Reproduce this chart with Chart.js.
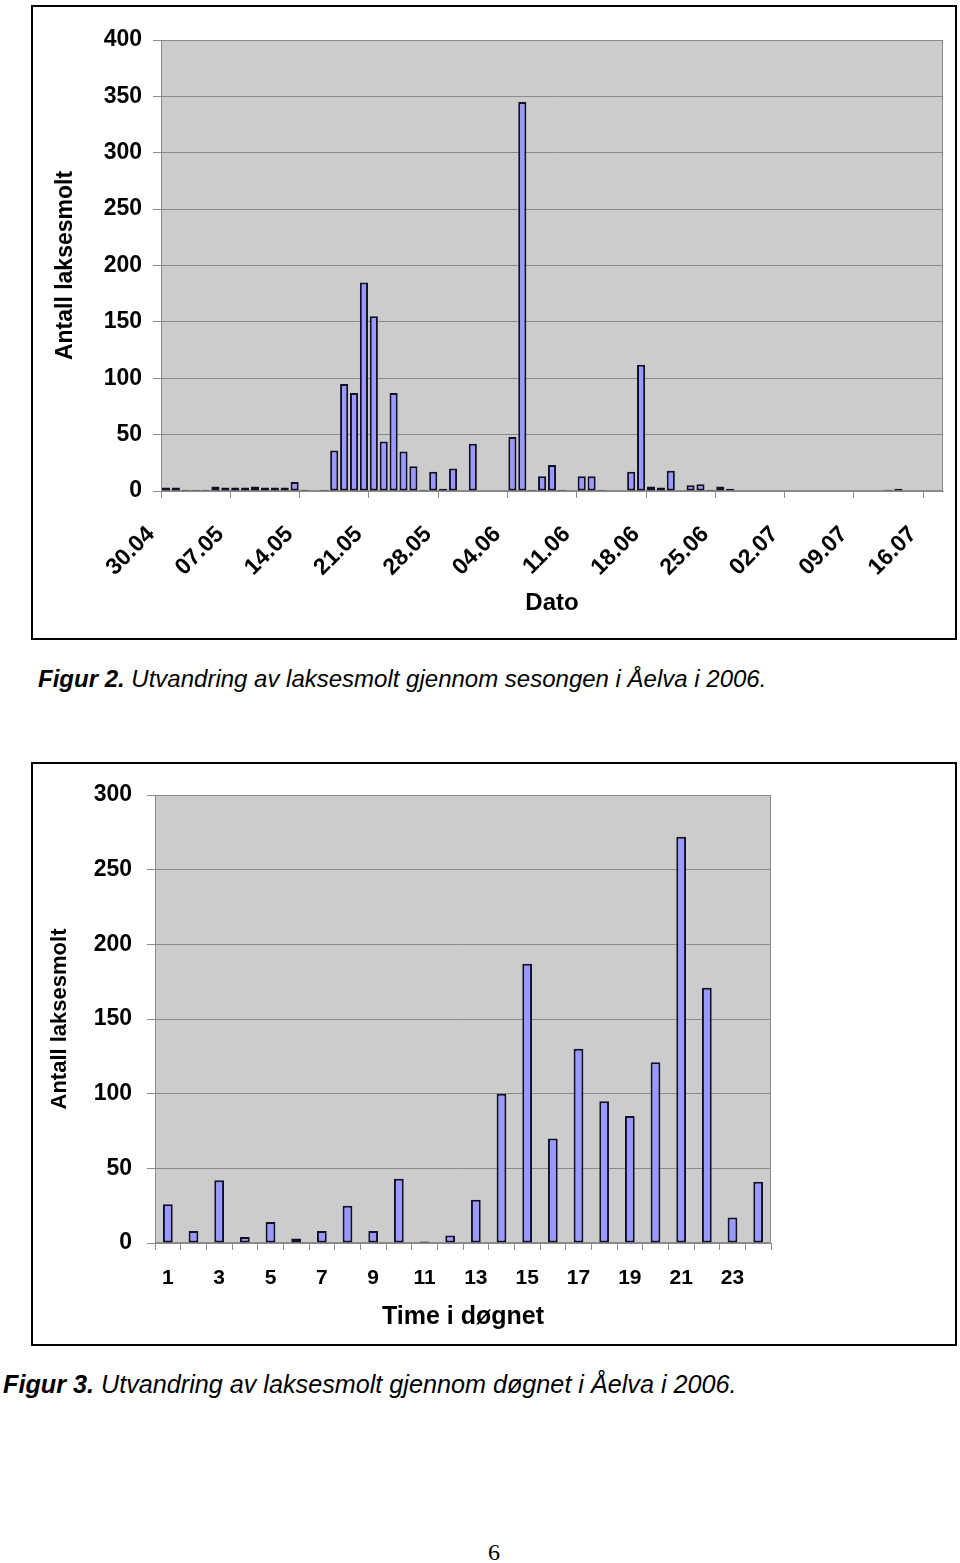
<!DOCTYPE html>
<html>
<head>
<meta charset="utf-8">
<script src="https://cdn.jsdelivr.net/npm/chart.js@4/dist/chart.umd.min.js"></script>
<style>
  html, body { margin: 0; padding: 0; background: #fff; }
  body { width: 960px; height: 1563px; position: relative; overflow: hidden; font-family: "Liberation Sans", Arial, sans-serif; }
  .box { position: absolute; border: 2px solid #000; }
  .box canvas { display: block; }
  .cap { position: absolute; font-size: 24px; line-height: 28px; font-style: italic; white-space: nowrap; color: #000; }
  .cap b { font-weight: bold; }
  .pg { position: absolute; font-family: "Liberation Serif", "Times New Roman", serif; font-size: 24px; line-height: 28px; }
</style>
</head>
<body>
<div class="box" id="box1" style="left:31px; top:5px; width:922px; height:631px;"><canvas id="c1" width="922" height="631"></canvas></div>
<div class="cap" style="left:38px; top:665px;"><b>Figur 2.</b> Utvandring av laksesmolt gjennom sesongen i Åelva i 2006.</div>
<div class="box" id="box2" style="left:31px; top:762px; width:922px; height:580px;"><canvas id="c2" width="922" height="580"></canvas></div>
<div class="cap" style="left:3px; top:1370px; font-size:25.2px;"><b>Figur 3.</b> Utvandring av laksesmolt gjennom døgnet i Åelva i 2006.</div>
<div class="pg" style="left:488px; top:1538px;">6</div>
<script>
// ---------- Figure 2 data (daily counts) ----------
const dates = [
  '30.04',
  '01.05','02.05','03.05','04.05','05.05','06.05','07.05','08.05','09.05','10.05',
  '11.05','12.05','13.05','14.05','15.05','16.05','17.05','18.05','19.05','20.05',
  '21.05','22.05','23.05','24.05','25.05','26.05','27.05','28.05','29.05','30.05','31.05',
  '01.06','02.06','03.06','04.06','05.06','06.06','07.06','08.06','09.06','10.06',
  '11.06','12.06','13.06','14.06','15.06','16.06','17.06','18.06','19.06','20.06',
  '21.06','22.06','23.06','24.06','25.06','26.06','27.06','28.06','29.06','30.06',
  '01.07','02.07','03.07','04.07','05.07','06.07','07.07','08.07','09.07','10.07',
  '11.07','12.07','13.07','14.07','15.07','16.07','17.07'
];
const dailyCounts = [
  3,
  3,1,1,1,4,3,3,3,4,3,
  3,3,8,1,null,1,36,95,87,185,
  155,44,87,35,22,1,17,2,20,null,42,
  null,null,null,48,345,1,13,23,1,null,
  13,13,1,null,null,17,112,4,3,18,
  null,5,6,1,4,2,null,null,null,null,
  null,null,null,null,null,null,null,null,null,null,
  null,1,2,null,null,null,null
];
const dateTickLabels = ['30.04','07.05','14.05','21.05','28.05','04.06','11.06','18.06','25.06','02.07','09.07','16.07'];
const yTicks1 = [0,50,100,150,200,250,300,350,400];

// ---------- Figure 3 data (hourly counts) ----------
const hours = ['1','2','3','4','5','6','7','8','9','10','11','12','13','14','15','16','17','18','19','20','21','22','23','24'];
const hourlyCounts = [26,8,42,4,14,3,8,25,8,43,1,5,29,100,187,70,130,95,85,121,272,171,17,41];
const hourTickLabels = ['1','3','5','7','9','11','13','15','17','19','21','23'];
const yTicks2 = [0,50,100,150,200,250,300];

const FONT = '"Liberation Sans", Arial, sans-serif';
const GRID = '#8a8a8a';
const PLOTBG = '#cccccc';
const BARFILL = '#9999ff';
const BARLINE = '#101028';

const plotBg = {
  id: 'plotBg',
  beforeDraw(chart) {
    const a = chart.chartArea, ctx = chart.ctx;
    ctx.save();
    ctx.fillStyle = PLOTBG;
    ctx.fillRect(a.left, a.top, a.right - a.left, a.bottom - a.top);
    ctx.strokeStyle = GRID;
    ctx.lineWidth = 1;
    ctx.strokeRect(a.left + 0.5, a.top + 0.5, a.right - a.left - 1, a.bottom - a.top - 1);
    ctx.restore();
  }
};

Chart.defaults.font.family = FONT;
Chart.defaults.color = '#000';

new Chart(document.getElementById('c1'), {
  type: 'bar',
  data: {
    labels: dates,
    datasets: [{
      data: dailyCounts,
      backgroundColor: BARFILL,
      borderColor: BARLINE,
      borderWidth: 2,
      borderSkipped: false,
      barPercentage: 0.82,
      categoryPercentage: 1.0
    }]
  },
  options: {
    responsive: false,
    animation: false,
    devicePixelRatio: 1,
    layout: { padding: { left: 0, right: 12, top: 33, bottom: 0 } },
    plugins: { legend: { display: false }, tooltip: { enabled: false } },
    scales: {
      x: {
        offset: true,
        grid: {
          offset: true,
          drawOnChartArea: false,
          drawTicks: true,
          tickLength: 7,
          color: (ctx) => (ctx.index % 7 === 0 ? GRID : 'rgba(0,0,0,0)')
        },
        border: { display: true, color: GRID },
        ticks: {
          autoSkip: false,
          minRotation: 45,
          maxRotation: 45,
          padding: 23,
          labelOffset: -15,
          color: '#000',
          font: { family: FONT, size: 23, weight: 'bold' },
          callback: (v, i) => (dateTickLabels.includes(dates[i]) ? dates[i] : '')
        },
        title: {
          display: true,
          text: 'Dato',
          color: '#000',
          font: { family: FONT, size: 24, weight: 'bold' },
          padding: { top: 0, bottom: 20.6 }
        },
        afterFit: (s) => { s.height = 147; s.paddingLeft = 0; s.paddingRight = 0; }
      },
      y: {
        min: 0,
        max: 400,
        afterBuildTicks: (s) => { s.ticks = yTicks1.map(v => ({ value: v })); },
        grid: { color: GRID, tickLength: 8, drawTicks: true },
        border: { display: true, color: GRID },
        ticks: {
          padding: 11,
          color: '#000',
          font: { family: FONT, size: 23, weight: 'bold' }
        },
        title: {
          display: true,
          text: 'Antall laksesmolt',
          color: '#000',
          font: { family: FONT, size: 23, weight: 'bold' },
          padding: { top: 19.2, bottom: 0 }
        },
        afterFit: (s) => { s.width = 128; s.paddingTop = 0; s.paddingBottom = 0; }
      }
    }
  },
  plugins: [plotBg]
});

new Chart(document.getElementById('c2'), {
  type: 'bar',
  data: {
    labels: hours,
    datasets: [{
      data: hourlyCounts,
      backgroundColor: BARFILL,
      borderColor: BARLINE,
      borderWidth: 2,
      borderSkipped: false,
      barPercentage: 0.38,
      categoryPercentage: 1.0
    }]
  },
  options: {
    responsive: false,
    animation: false,
    devicePixelRatio: 1,
    layout: { padding: { left: 0, right: 184, top: 31, bottom: 0 } },
    plugins: { legend: { display: false }, tooltip: { enabled: false } },
    scales: {
      x: {
        offset: true,
        grid: {
          offset: true,
          drawOnChartArea: false,
          drawTicks: true,
          tickLength: 7,
          color: GRID
        },
        border: { display: true, color: GRID },
        ticks: {
          autoSkip: false,
          minRotation: 0,
          maxRotation: 0,
          padding: 16,
          color: '#000',
          font: { family: FONT, size: 21, weight: 'bold' },
          callback: (v, i) => (hourTickLabels.includes(hours[i]) ? hours[i] : '')
        },
        title: {
          display: true,
          text: 'Time i døgnet',
          color: '#000',
          font: { family: FONT, size: 25, weight: 'bold' },
          padding: { top: 0, bottom: 12 }
        },
        afterFit: (s) => { s.height = 101; s.paddingLeft = 0; s.paddingRight = 0; }
      },
      y: {
        min: 0,
        max: 300,
        afterBuildTicks: (s) => { s.ticks = yTicks2.map(v => ({ value: v })); },
        grid: { color: GRID, tickLength: 8, drawTicks: true },
        border: { display: true, color: GRID },
        ticks: {
          padding: 15,
          color: '#000',
          font: { family: FONT, size: 23, weight: 'bold' }
        },
        title: {
          display: true,
          text: 'Antall laksesmolt',
          color: '#000',
          font: { family: FONT, size: 22, weight: 'bold' },
          padding: { top: 13.8, bottom: 0 }
        },
        afterFit: (s) => { s.width = 122; s.paddingTop = 0; s.paddingBottom = 0; }
      }
    }
  },
  plugins: [plotBg]
});
</script>
</body>
</html>
